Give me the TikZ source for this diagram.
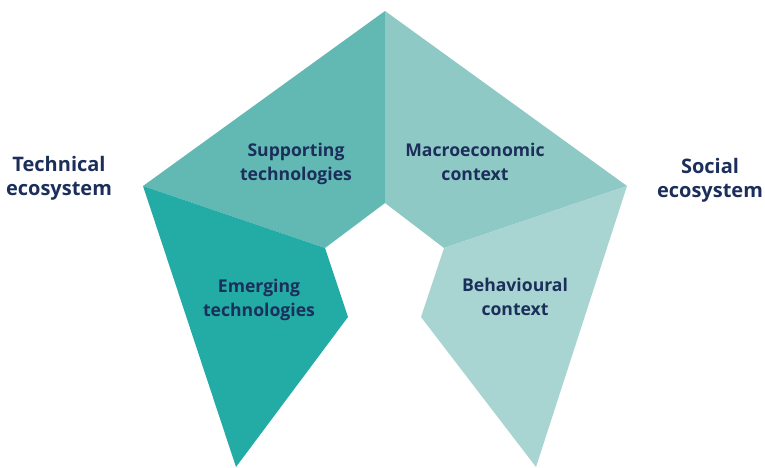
\documentclass[tikz,border=0pt]{standalone}
\usepackage{fontspec}
\setmainfont{Open Sans}
\definecolor{supp}{HTML}{62B8B3}
\definecolor{macro}{HTML}{8FC9C6}
\definecolor{emer}{HTML}{23ABA5}
\definecolor{behav}{HTML}{A8D4D2}
\definecolor{navy}{HTML}{1B2F5A}
\begin{document}
\begin{tikzpicture}[x=1pt,y=-1pt,
  lbl/.style={text=navy,font=\bfseries\fontsize{17.6}{23.5}\selectfont,align=center,inner sep=0pt},
  side/.style={text=navy,font=\bfseries\fontsize{20}{24}\selectfont,align=center,inner sep=0pt}]
\useasboundingbox (0,0) rectangle (765,468);
\coordinate (T) at (385,11);
\coordinate (L) at (143,186);
\coordinate (R) at (627,186);
\coordinate (C) at (385,203);
\coordinate (SL) at (325,248);
\coordinate (SR) at (444,248);
\coordinate (EL) at (348,317);
\coordinate (ER) at (421,317);
\coordinate (BL) at (236,467);
\coordinate (BR) at (536,467);
\fill[supp] (T) -- (L) -- (SL) -- (C) -- cycle;
\fill[macro] (T) -- (R) -- (SR) -- (C) -- cycle;
\fill[emer] (L) -- (SL) -- (EL) -- (BL) -- cycle;
\fill[behav] (R) -- (SR) -- (ER) -- (BR) -- cycle;
\node[lbl] (s) at (296,164) {Supporting\\technologies};
\node[lbl] (m) at (475,162) {Macroeconomic\\context};
\node[lbl] (e) at (259,300) {Emerging\\technologies};
\node[lbl] (b) at (515,297) {Behavioural\\context};
\node[side] (t) at (59,178) {Technical\\ecosystem};
\node[side] (so) at (710,180) {Social\\ecosystem};
\end{tikzpicture}
\end{document}
